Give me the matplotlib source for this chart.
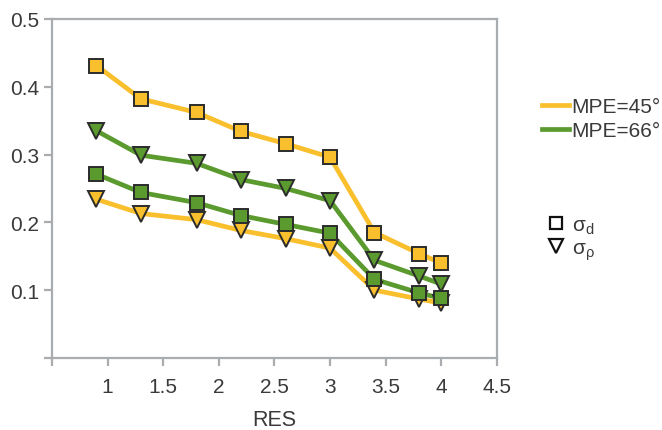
import numpy as np
import matplotlib
matplotlib.use("Agg")
import matplotlib.pyplot as plt
from matplotlib.lines import Line2D

plt.rcParams["font.family"] = ["Liberation Sans", "DejaVu Sans"]
plt.rcParams["mathtext.fontset"] = "custom"
plt.rcParams["mathtext.rm"] = "Liberation Sans"

# RES values along x
res = [0.9, 1.3, 1.8, 2.2, 2.6, 3.0, 3.4, 3.8, 4.0]

# MPE = 45 deg
sd_45 = [0.431, 0.382, 0.362, 0.334, 0.316, 0.296, 0.185, 0.154, 0.140]
sr_45 = [0.234, 0.213, 0.204, 0.188, 0.176, 0.162, 0.100, 0.087, 0.081]

# MPE = 66 deg
sd_66 = [0.271, 0.244, 0.229, 0.210, 0.197, 0.184, 0.116, 0.096, 0.088]
sr_66 = [0.335, 0.299, 0.287, 0.263, 0.250, 0.232, 0.144, 0.121, 0.109]

xticks = [0.5, 1, 1.5, 2, 2.5, 3, 3.5, 4, 4.5]
xticklabels = ["", "1", "1.5", "2", "2.5", "3", "3.5", "4", "4.5"]
yticks = [0, 0.1, 0.2, 0.3, 0.4, 0.5]
yticklabels = ["", "0.1", "0.2", "0.3", "0.4", "0.5"]

yellow = "#f9bf2c"
green = "#5b9a2e"
edge = "#2b2b2b"
axis_col = "#a9adb0"
text_col = "#3a3a3a"

fig = plt.figure(figsize=(6.62, 4.31), dpi=100)
ax = fig.add_axes([0.0785, 0.167, 0.672, 0.787])

def draw(y, color, marker, ms):
    ax.plot(res, y, color=color, lw=3.4, zorder=2)
    ax.plot(res, y, ls="none", marker=marker, ms=ms, mfc=color, mec=edge,
            mew=1.4, zorder=3)

draw(sr_45, yellow, "v", 11)
draw(sd_45, yellow, "s", 10.5)
draw(sr_66, green, "v", 11)
draw(sd_66, green, "s", 10.5)

ax.set_xlim(0.5, 4.5)
ax.set_ylim(0, 0.5)
ax.set_xticks(xticks)
ax.set_xticklabels(xticklabels)
ax.set_yticks(yticks)
ax.set_yticklabels(yticklabels)
for s in ax.spines.values():
    s.set_color(axis_col)
    s.set_linewidth(1.6)
ax.tick_params(colors=axis_col, labelcolor=text_col, labelsize=15,
               width=1.6, length=6)
ax.tick_params(axis="y", pad=3)
ax.tick_params(axis="x", pad=8)
ax.set_xlabel("RES", fontsize=15.5, color=text_col, labelpad=9)

h1 = [Line2D([], [], color=yellow, lw=3.4), Line2D([], [], color=green, lw=3.4)]
leg1 = fig.legend(h1, ["MPE=45°", "MPE=66°"], loc="center left",
                  bbox_to_anchor=(0.818, 0.722), frameon=False, fontsize=15,
                  handlelength=1.3, handletextpad=0.15, labelspacing=0.25,
                  labelcolor=text_col, borderaxespad=0, borderpad=0)
h2 = [Line2D([], [], ls="none", marker="s", ms=9, mfc="white", mec="#111111", mew=1.6),
      Line2D([], [], ls="none", marker="v", ms=9.5, mfc="white", mec="#111111", mew=1.6)]
leg2 = fig.legend(h2, ["σ$_\\mathrm{d}$", "σ$_\\mathrm{\\rho}$"], loc="center left",
                  bbox_to_anchor=(0.827, 0.444), frameon=False, fontsize=15,
                  handlelength=0.8, handletextpad=0.4, labelspacing=0.15,
                  labelcolor=text_col, borderaxespad=0, borderpad=0)

fig.savefig("out.png", dpi=100)
